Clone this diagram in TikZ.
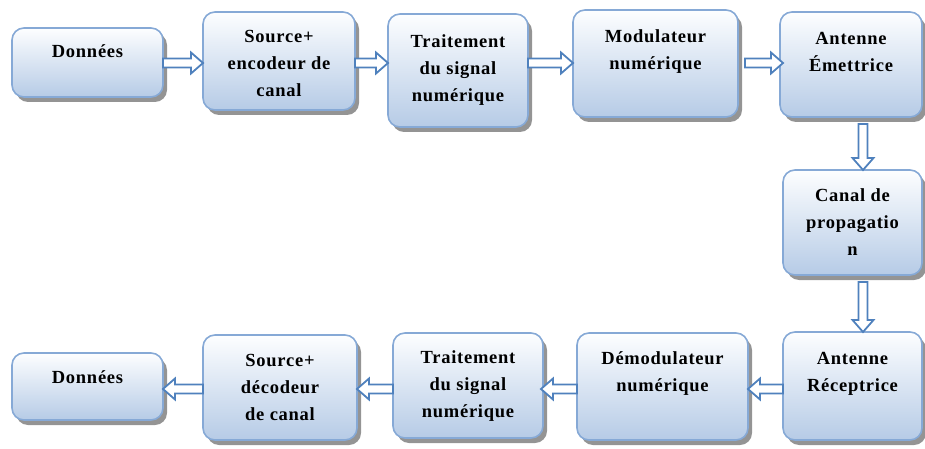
\documentclass[tikz,border=0pt]{standalone}
\usepackage{fontspec}
\setmainfont{Liberation Serif}[LetterSpace=4]
\usetikzlibrary{calc,shadows}

\definecolor{boxline}{HTML}{86A9D6}
\definecolor{boxbottom}{HTML}{B6CBE6}
\definecolor{boxtop}{HTML}{FDFEFF}
\definecolor{arrowblue}{HTML}{4F81BD}

\tikzset{
  blk/.style={draw=boxline, line width=1.6pt, rounded corners=12pt,
    top color=boxtop, bottom color=boxbottom, inner sep=0pt, outer sep=0pt,
    drop shadow={shadow xshift=4pt, shadow yshift=-5pt, fill=black!60, opacity=0.7},
    font=\fontsize{18.5}{27}\selectfont\bfseries},
  arrowline/.style={draw=arrowblue, fill=white, line width=1.8pt, line join=miter}
}

% block: name, x1, y1, x2, y2, baseline offset of first line, text
\newcommand\mkblock[7]{%
  \node[blk] (#1) at ({(#2+#4)/2},{(#3+#5)/2})
    {\parbox[c][\dimexpr#5pt-#3pt\relax][t]{\dimexpr#4pt-#2pt\relax}%
      {\centering\vspace*{\dimexpr#6pt-18.9pt\relax}\strut#7}};}

% hollow block arrow from #1 to #2 (tip at #2)
\newcommand\blockarrow[2]{%
  \draw[arrowline] let \p1=(#1), \p2=(#2),
      \n1={veclen(\x2-\x1,\y2-\y1)},
      \n2={(\x2-\x1)/\n1}, \n3={(\y2-\y1)/\n1} in
    ({\x1-4.5pt*(\n3)},{\y1+4.5pt*(\n2)}) --
    ({\x2-12pt*(\n2)-4.5pt*(\n3)},{\y2-12pt*(\n3)+4.5pt*(\n2)}) --
    ({\x2-12pt*(\n2)-10.5pt*(\n3)},{\y2-12pt*(\n3)+10.5pt*(\n2)}) --
    (\x2,\y2) --
    ({\x2-12pt*(\n2)+10.5pt*(\n3)},{\y2-12pt*(\n3)-10.5pt*(\n2)}) --
    ({\x2-12pt*(\n2)+4.5pt*(\n3)},{\y2-12pt*(\n3)-4.5pt*(\n2)}) --
    ({\x1+4.5pt*(\n3)},{\y1-4.5pt*(\n2)}) -- cycle;}

\begin{document}
\begin{tikzpicture}[x=1pt,y=-1pt]
\useasboundingbox (0,0) rectangle (925,449);

% transmission chain
\mkblock{don1}{12}{28}{163}{97}{30}{Données}
\mkblock{src1}{203}{12}{355}{110}{31}{Source+\\encodeur de\\canal}
\mkblock{trt1}{388}{14}{528}{127}{34}{Traitement\\du signal\\numérique}
\mkblock{mod}{573}{10}{738}{117}{33}{Modulateur\\numérique}
\mkblock{ante}{780}{12}{922}{117}{33}{Antenne\\Émettrice}

% channel
\mkblock{canal}{783}{170}{922}{275}{31}{Canal de\\propagatio\\n}

% reception chain
\mkblock{antr}{783}{332}{922}{440}{32}{Antenne\\Réceptrice}
\mkblock{demod}{577}{333}{748}{440}{31}{Démodulateur\\numérique}
\mkblock{trt2}{393}{333}{543}{438}{30}{Traitement\\du signal\\numérique}
\mkblock{src2}{203}{335}{357}{440}{31}{Source+\\décodeur\\de canal}
\mkblock{don2}{12}{353}{163}{420}{30}{Données}

% arrow lines
\coordinate (rowtop) at (0,63);
\coordinate (rowbot) at (0,389);
\coordinate (colr) at (863,0);

\blockarrow{don1.east |- rowtop}{src1.west |- rowtop}
\blockarrow{src1.east |- rowtop}{trt1.west |- rowtop}
\blockarrow{trt1.east |- rowtop}{mod.west |- rowtop}
\blockarrow{$(mod.east |- rowtop)+(7,0)$}{$(ante.west |- rowtop)+(3,0)$}
\blockarrow{$(ante.south -| colr)+(0,7)$}{canal.north -| colr}
\blockarrow{$(canal.south -| colr)+(0,7)$}{antr.north -| colr}
\blockarrow{antr.west |- rowbot}{demod.east |- rowbot}
\blockarrow{demod.west |- rowbot}{$(trt2.east |- rowbot)+(-2,0)$}
\blockarrow{trt2.west |- rowbot}{src2.east |- rowbot}
\blockarrow{src2.west |- rowbot}{don2.east |- rowbot}
\end{tikzpicture}
\end{document}
